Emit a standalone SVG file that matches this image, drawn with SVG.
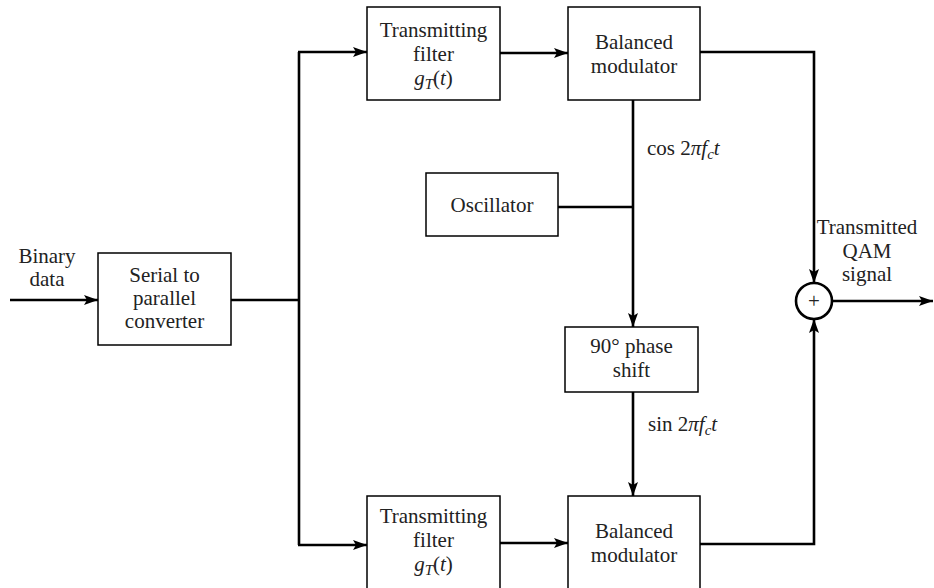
<svg xmlns="http://www.w3.org/2000/svg" width="934" height="588" viewBox="0 0 934 588">
<defs>
<marker id="ah" viewBox="0 0 14 10" refX="14" refY="5" markerWidth="14" markerHeight="10" markerUnits="userSpaceOnUse" orient="auto">
<path d="M0,0 L14,5 L0,10 L3,5 Z" fill="#000"/>
</marker>
<style>
.box{fill:#fff;stroke:#000;stroke-width:1.5}
.ln{fill:none;stroke:#000;stroke-width:2.6}
.ar{fill:none;stroke:#000;stroke-width:2.6;marker-end:url(#ah)}
text{font-family:"Liberation Serif","Times New Roman",serif;font-size:21px;fill:#222;text-anchor:middle}
.l{text-anchor:start}
.i{font-style:italic}
</style>
</defs>
<rect width="934" height="588" fill="#fff"/>
<g id="connectors">
<line class="ar" x1="10" y1="300" x2="98" y2="300"/>
<polyline class="ln" points="231,300 299,300"/>
<line class="ln" x1="299" y1="52" x2="299" y2="545"/>
<polyline class="ar" points="298,52 367,52"/>
<polyline class="ar" points="298,545 367,545"/>
<line class="ar" x1="500" y1="53" x2="568" y2="53"/>
<line class="ar" x1="500" y1="543" x2="568" y2="543"/>
<polyline class="ar" points="700,52 814,52 814,283"/>
<polyline class="ar" points="700,544 814,544 814,319"/>
<polyline class="ar" points="633,100 633,327"/>
<line class="ln" x1="558" y1="207" x2="633" y2="207"/>
<line class="ar" x1="633" y1="392" x2="633" y2="496"/>
<line class="ar" x1="832" y1="301" x2="933" y2="301"/>
</g>
<g id="input-label">
<text x="47" y="263">Binary</text>
<text x="47" y="286">data</text>
</g>
<g id="serial">
<rect class="box" x="98" y="253" width="133" height="92"/>
<text x="164.500" y="282">Serial to</text>
<text x="164.500" y="305">parallel</text>
<text x="164.500" y="328">converter</text>
</g>
<g id="filter-top">
<rect class="box" x="367" y="7" width="133" height="93"/>
<text x="433.500" y="37">Transmitting</text>
<text x="433.500" y="61">filter</text>
<text x="433.500" y="85"><tspan class="i">g</tspan><tspan class="i" font-size="15" dy="4">T</tspan><tspan dy="-4">(</tspan><tspan class="i">t</tspan>)</text>
</g>
<g id="modulator-top">
<rect class="box" x="568" y="7" width="132" height="93"/>
<text x="634" y="49">Balanced</text>
<text x="634" y="73">modulator</text>
</g>
<g id="oscillator">
<rect class="box" x="426" y="173" width="132" height="63"/>
<text x="492" y="212">Oscillator</text>
</g>
<g id="cos-label">
<text class="l" x="647" y="155">cos 2<tspan class="i">π</tspan><tspan class="i">f</tspan><tspan class="i" font-size="15" dy="4">c</tspan><tspan class="i" dy="-4">t</tspan></text>
</g>
<g id="phase-shift">
<rect class="box" x="565" y="327" width="133" height="65"/>
<text x="631.500" y="353">90° phase</text>
<text x="631.500" y="377">shift</text>
</g>
<g id="sin-label">
<text class="l" x="648" y="431">sin 2<tspan class="i">π</tspan><tspan class="i">f</tspan><tspan class="i" font-size="15" dy="4">c</tspan><tspan class="i" dy="-4">t</tspan></text>
</g>
<g id="filter-bottom">
<rect class="box" x="367" y="496" width="133" height="95"/>
<text x="433.500" y="523">Transmitting</text>
<text x="433.500" y="547">filter</text>
<text x="433.500" y="571"><tspan class="i">g</tspan><tspan class="i" font-size="15" dy="4">T</tspan><tspan dy="-4">(</tspan><tspan class="i">t</tspan>)</text>
</g>
<g id="modulator-bottom">
<rect class="box" x="568" y="496" width="132" height="95"/>
<text x="634" y="538">Balanced</text>
<text x="634" y="562">modulator</text>
</g>
<g id="adder">
<circle cx="814" cy="301" r="18" fill="#fff" stroke="#000" stroke-width="2.6"/>
<text x="814" y="308" font-size="20" fill="#555">+</text>
</g>
<g id="output-label">
<text x="867" y="234">Transmitted</text>
<text x="867" y="258">QAM</text>
<text x="867" y="281">signal</text>
</g>
</svg>
